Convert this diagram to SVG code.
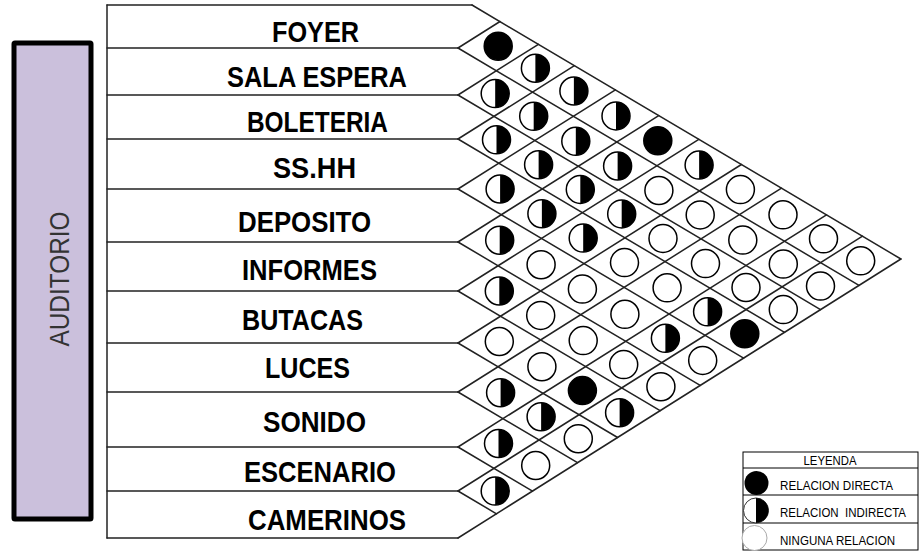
<svg xmlns="http://www.w3.org/2000/svg" xmlns:xlink="http://www.w3.org/1999/xlink" width="921" height="553" viewBox="0 0 921 553">
<style>
.ln{stroke:#222;stroke-width:1.5;fill:none;stroke-linecap:round}
.lbl{font-family:"Liberation Sans",Arial,sans-serif;font-weight:bold;font-size:30px;fill:#000}
.lg{font-family:"Liberation Sans",Arial,sans-serif;font-size:13px;fill:#000}
</style>
<defs>
<g id="full"><circle r="14" fill="#000" stroke="#000" stroke-width="1.5"/></g>
<g id="half"><circle r="14" fill="#fff" stroke="#000" stroke-width="1.5"/><path d="M0,-14 A14,14 0 0 1 0,14 Z" fill="#000"/></g>
<g id="none"><circle r="14" fill="#fff" stroke="#000" stroke-width="1.5"/></g>
</defs>
<rect width="921" height="553" fill="#fff"/>

<g id="auditorio">
<rect x="14" y="43" width="77" height="476" fill="#cbc0dc" stroke="#000" stroke-width="5" rx="1"/>
<text transform="translate(69,279) rotate(-90)" text-anchor="middle" font-family="Liberation Sans, Arial, sans-serif" font-size="27" fill="#333" textLength="135" lengthAdjust="spacingAndGlyphs">AUDITORIO</text>
</g>

<g id="rows">
<g id="row-foyer"><line class="ln" x1="107" y1="5" x2="472" y2="5"/><text class="lbl" x="272" y="42" textLength="87" lengthAdjust="spacingAndGlyphs">FOYER</text></g>
<g id="row-sala-espera"><line class="ln" x1="107" y1="48" x2="458" y2="48"/><text class="lbl" x="227" y="87" textLength="180" lengthAdjust="spacingAndGlyphs">SALA ESPERA</text></g>
<g id="row-boleteria"><line class="ln" x1="107" y1="95" x2="458" y2="95"/><text class="lbl" x="247" y="132" textLength="141" lengthAdjust="spacingAndGlyphs">BOLETERIA</text></g>
<g id="row-sshh"><line class="ln" x1="107" y1="139" x2="458" y2="139"/><text class="lbl" x="273" y="178" textLength="83" lengthAdjust="spacingAndGlyphs">SS.HH</text></g>
<g id="row-deposito"><line class="ln" x1="107" y1="189" x2="458" y2="189"/><text class="lbl" x="238" y="232" textLength="133" lengthAdjust="spacingAndGlyphs">DEPOSITO</text></g>
<g id="row-informes"><line class="ln" x1="107" y1="242" x2="458" y2="242"/><text class="lbl" x="242" y="280" textLength="135" lengthAdjust="spacingAndGlyphs">INFORMES</text></g>
<g id="row-butacas"><line class="ln" x1="107" y1="291" x2="458" y2="291"/><text class="lbl" x="242" y="330" textLength="121" lengthAdjust="spacingAndGlyphs">BUTACAS</text></g>
<g id="row-luces"><line class="ln" x1="107" y1="343" x2="458" y2="343"/><text class="lbl" x="265" y="378" textLength="85" lengthAdjust="spacingAndGlyphs">LUCES</text></g>
<g id="row-sonido"><line class="ln" x1="107" y1="392" x2="458" y2="392"/><text class="lbl" x="263" y="432" textLength="103" lengthAdjust="spacingAndGlyphs">SONIDO</text></g>
<g id="row-escenario"><line class="ln" x1="107" y1="447" x2="458" y2="447"/><text class="lbl" x="244" y="482" textLength="152" lengthAdjust="spacingAndGlyphs">ESCENARIO</text></g>
<g id="row-camerinos"><line class="ln" x1="107" y1="491" x2="458" y2="491"/><text class="lbl" x="248" y="530" textLength="158" lengthAdjust="spacingAndGlyphs">CAMERINOS</text></g>
<line class="ln" x1="107" y1="538" x2="458" y2="538"/>
<line class="ln" x1="107" y1="5" x2="107" y2="538"/>
</g>

<g id="connectors">
<line class="ln" x1="472" y1="5" x2="900.9" y2="259"/>
<line class="ln" x1="458" y1="48" x2="859" y2="285.4"/>
<line class="ln" x1="458" y1="95" x2="820.5" y2="309.6"/>
<line class="ln" x1="458" y1="139" x2="784.5" y2="332.3"/>
<line class="ln" x1="458" y1="189" x2="743.6" y2="358.1"/>
<line class="ln" x1="458" y1="242" x2="700.2" y2="385.4"/>
<line class="ln" x1="458" y1="291" x2="660.1" y2="410.7"/>
<line class="ln" x1="458" y1="343" x2="617.6" y2="437.5"/>
<line class="ln" x1="458" y1="392" x2="577.5" y2="462.7"/>
<line class="ln" x1="458" y1="447" x2="532.5" y2="491.1"/>
<line class="ln" x1="458" y1="491" x2="496.5" y2="513.8"/>
<line class="ln" x1="458" y1="48" x2="500" y2="21.5"/>
<line class="ln" x1="458" y1="95" x2="538.4" y2="44.3"/>
<line class="ln" x1="458" y1="139" x2="574.4" y2="65.7"/>
<line class="ln" x1="458" y1="189" x2="615.4" y2="89.8"/>
<line class="ln" x1="458" y1="242" x2="658.7" y2="115.6"/>
<line class="ln" x1="458" y1="291" x2="698.8" y2="139.3"/>
<line class="ln" x1="458" y1="343" x2="741.4" y2="164.5"/>
<line class="ln" x1="458" y1="392" x2="781.5" y2="188.2"/>
<line class="ln" x1="458" y1="447" x2="826.5" y2="214.8"/>
<line class="ln" x1="458" y1="491" x2="862.5" y2="236.2"/>
<line class="ln" x1="458" y1="538" x2="900.9" y2="259"/>
</g>

<g id="cells">
<use href="#full" x="498.2" y="46.2"/>
<use href="#half" x="535.4" y="68.2"/>
<use href="#half" x="573.9" y="91"/>
<use href="#half" x="616" y="115.9"/>
<use href="#full" x="657.8" y="140.7"/>
<use href="#half" x="699.1" y="165.1"/>
<use href="#none" x="740.4" y="189.6"/>
<use href="#none" x="783" y="214.8"/>
<use href="#none" x="823.5" y="238.8"/>
<use href="#none" x="860.7" y="260.8"/>

<use href="#half" x="495.2" y="93.6"/>
<use href="#half" x="533.7" y="116.3"/>
<use href="#half" x="575.8" y="141.3"/>
<use href="#half" x="617.6" y="166"/>
<use href="#none" x="658.9" y="190.5"/>
<use href="#none" x="700.2" y="214.9"/>
<use href="#none" x="742.8" y="240.1"/>
<use href="#none" x="783.3" y="264.1"/>
<use href="#none" x="820.5" y="286.1"/>

<use href="#half" x="496.5" y="139.8"/>
<use href="#half" x="538.6" y="164.7"/>
<use href="#half" x="580.3" y="189.4"/>
<use href="#half" x="621.7" y="213.9"/>
<use href="#none" x="663" y="238.4"/>
<use href="#none" x="705.5" y="263.6"/>
<use href="#none" x="746" y="287.5"/>
<use href="#none" x="783.3" y="309.6"/>

<use href="#half" x="500.1" y="189"/>
<use href="#half" x="541.9" y="213.7"/>
<use href="#half" x="583.2" y="238.1"/>
<use href="#none" x="624.5" y="262.6"/>
<use href="#none" x="667.1" y="287.8"/>
<use href="#half" x="707.6" y="311.8"/>
<use href="#full" x="744.8" y="333.8"/>

<use href="#half" x="499.7" y="240.2"/>
<use href="#none" x="541.1" y="264.7"/>
<use href="#none" x="582.4" y="289.1"/>
<use href="#none" x="624.9" y="314.3"/>
<use href="#half" x="665.4" y="338.3"/>
<use href="#none" x="702.7" y="360.4"/>

<use href="#half" x="499.3" y="291"/>
<use href="#none" x="540.7" y="315.4"/>
<use href="#none" x="583.2" y="340.6"/>
<use href="#none" x="623.7" y="364.6"/>
<use href="#none" x="660.9" y="386.7"/>

<use href="#none" x="499.3" y="341.5"/>
<use href="#none" x="541.9" y="366.7"/>
<use href="#full" x="582.4" y="390.6"/>
<use href="#half" x="619.6" y="412.7"/>

<use href="#half" x="500.6" y="392.7"/>
<use href="#half" x="541.1" y="416.7"/>
<use href="#none" x="578.3" y="438.7"/>

<use href="#half" x="498.5" y="443.5"/>
<use href="#none" x="535.7" y="465.5"/>

<use href="#half" x="495.2" y="491.1"/>
</g>

<g id="legend">
<rect x="743" y="452" width="175" height="98" fill="#fff" stroke="#000" stroke-width="1"/>
<line x1="743" y1="468" x2="918" y2="468" stroke="#000" stroke-width="1"/>
<line x1="743" y1="495" x2="918" y2="495" stroke="#000" stroke-width="1"/>
<line x1="743" y1="523" x2="918" y2="523" stroke="#000" stroke-width="1"/>
<text class="lg" x="830" y="465" text-anchor="middle" font-size="11.5" textLength="53" lengthAdjust="spacingAndGlyphs">LEYENDA</text>
<circle cx="756.5" cy="483" r="12" fill="#000"/>
<circle cx="756" cy="510.5" r="12.5" fill="#fff" stroke="#333" stroke-width="1"/>
<path d="M756,498 A12.5,12.5 0 0 1 756,523 Z" fill="#000"/>
<circle cx="754.5" cy="538" r="12.5" fill="#fff" stroke="#aaa" stroke-width="1"/>
<text class="lg" x="780" y="490" textLength="113" lengthAdjust="spacingAndGlyphs">RELACION DIRECTA</text>
<text class="lg" x="780" y="517" textLength="126" lengthAdjust="spacingAndGlyphs" xml:space="preserve">RELACION  INDIRECTA</text>
<text class="lg" x="780" y="545" textLength="115" lengthAdjust="spacingAndGlyphs">NINGUNA RELACION</text>
</g>
</svg>
